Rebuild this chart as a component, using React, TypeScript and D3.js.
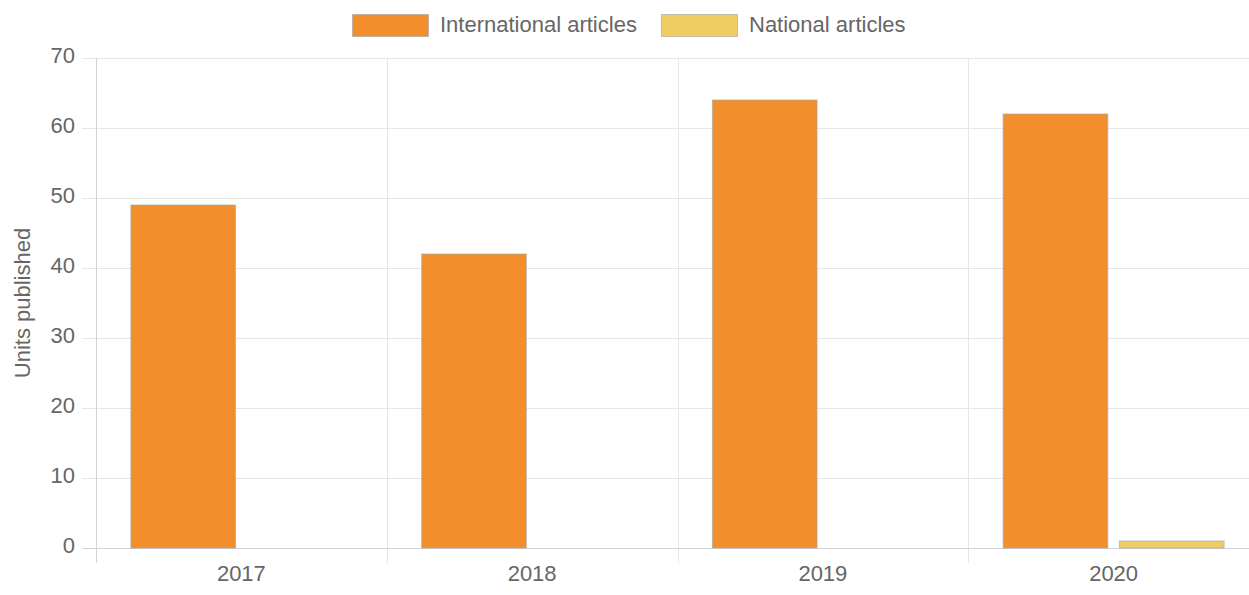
import React from "react";
import * as d3 from "d3";

const years = ["2017", "2018", "2019", "2020"];
const seriesNames = ["International articles", "National articles"];
const international = [49, 42, 64, 62];
const national = [0, 0, 0, 1];
const yTicks = [0, 10, 20, 30, 40, 50, 60, 70];
const colors = ["#f28e2c", "#f0cd63"];

const W = 1249;
const H = 595;
const font = "'Liberation Sans', Arial, sans-serif";
const fs = 22;

export default function App() {
  const margin = { top: 58, left: 96, bottom: 548, right: 1259 };
  const x = d3.scaleBand().domain(years).range([margin.left, margin.right]);
  const y = d3.scaleLinear().domain([0, 70]).range([margin.bottom, margin.top]);
  // chart.js style: categoryPercentage 0.8, barPercentage 0.9
  const inner = d3
    .scaleBand()
    .domain(seriesNames)
    .range([0, x.bandwidth() * 0.8]);
  const barW = inner.bandwidth() * 0.9;
  const data = [international, national];

  return (
    <svg
      width={W}
      height={H}
      style={{ position: "absolute", left: 0, top: 0, overflow: "hidden", background: "#fff" }}
      fontFamily={font}
    >
      {/* horizontal grid + left ticks */}
      {yTicks.map((t) => (
        <g key={t}>
          <line x1={82} x2={margin.right} y1={y(t) + 0.5} y2={y(t) + 0.5} stroke="#e6e6e6" />
          <text x={75} y={y(t) - 3} dy="0.35em" textAnchor="end" fontSize={fs} fill="#666">
            {t}
          </text>
        </g>
      ))}
      {/* vertical grid at category boundaries */}
      {years.map((yr) => (
        <line
          key={yr}
          x1={Math.round(x(yr)!) + 0.5}
          x2={Math.round(x(yr)!) + 0.5}
          y1={margin.top}
          y2={563}
          stroke="#e6e6e6"
        />
      ))}
      <line x1={margin.left + 0.5} x2={margin.left + 0.5} y1={margin.top} y2={563} stroke="#d4d4d4" />
      <line x1={82} x2={margin.right} y1={margin.bottom + 0.5} y2={margin.bottom + 0.5} stroke="#d4d4d4" />

      {/* bars */}
      {data.map((vals, si) =>
        vals.map((v, i) => {
          if (v <= 0) return null;
          const slot = x(years[i])! + x.bandwidth() * 0.1 + inner(seriesNames[si])!;
          const bx = slot + (inner.bandwidth() - barW) / 2;
          return (
            <rect
              key={`${si}-${i}`}
              x={bx}
              y={y(v)}
              width={barW}
              height={y(0) - y(v)}
              fill={colors[si]}
              stroke="rgba(170,170,170,0.7)"
              strokeWidth={1}
            />
          );
        })
      )}

      {/* x labels */}
      {years.map((yr) => (
        <text
          key={yr}
          x={x(yr)! + x.bandwidth() / 2}
          y={573}
          dy="0.35em"
          textAnchor="middle"
          fontSize={fs}
          fill="#666"
        >
          {yr}
        </text>
      ))}

      {/* y title */}
      <text
        transform={`translate(22,${(margin.top + margin.bottom) / 2}) rotate(-90)`}
        textAnchor="middle"
        dy="0.35em"
        fontSize={fs}
        fill="#666"
      >
        Units published
      </text>

      {/* legend */}
      {[352, 661].map((lx, i) => (
        <g key={i}>
          <rect x={lx + 0.5} y={14.5} width={76} height={22} fill={colors[i]} stroke="rgba(170,170,170,0.7)" />
          <text x={lx + 88} y={24} dy="0.35em" fontSize={fs} fill="#666">
            {seriesNames[i]}
          </text>
        </g>
      ))}
    </svg>
  );
}
